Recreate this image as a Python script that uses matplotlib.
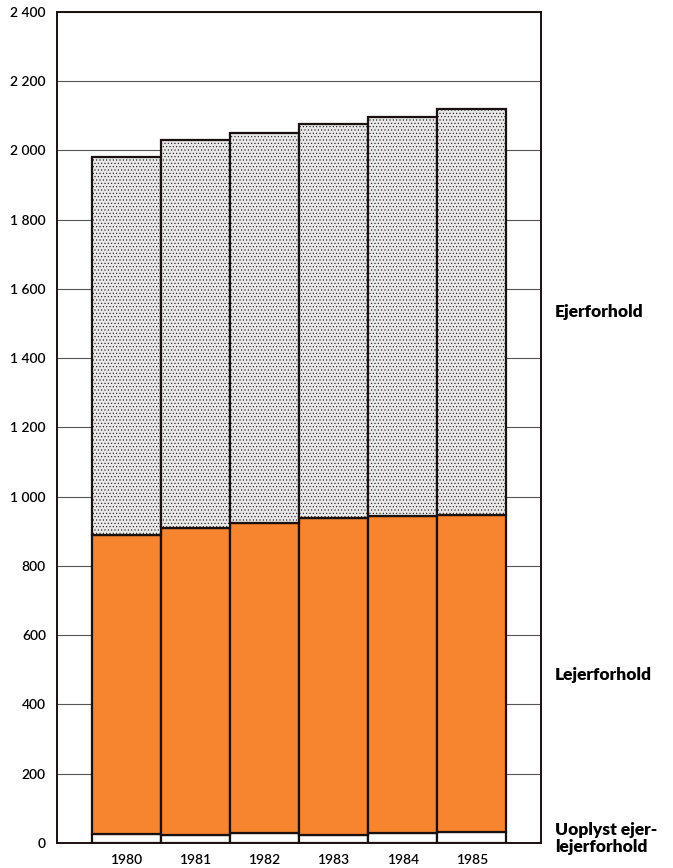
import matplotlib.pyplot as plt

years = ['1980', '1981', '1982', '1983', '1984', '1985']
uoplyst = [25, 24, 29, 24, 28, 32]
lejer_top = [890, 910, 924, 939, 944, 947]
total = [1981, 2030, 2051, 2077, 2097, 2120]

lejer = [l - u for l, u in zip(lejer_top, uoplyst)]
ejer = [t - l for t, l in zip(total, lejer_top)]

plt.rcParams['font.family'] = ['Lato', 'DejaVu Sans']
plt.rcParams['hatch.color'] = '#b5b5b5'
plt.rcParams['hatch.linewidth'] = 0.4

fig = plt.figure(figsize=(6.73, 8.68), dpi=100)
ax = fig.add_axes([0.0847, 0.0288, 0.7192, 0.9574])

x = range(len(years))
ax.bar(x, uoplyst, width=1.0, color='white', edgecolor='#1a1010', linewidth=1.6, zorder=3)
ax.bar(x, lejer, width=1.0, bottom=uoplyst, color='#f7842f', edgecolor='#1a1010', linewidth=1.6, zorder=3)
ax.bar(x, ejer, width=1.0, bottom=lejer_top, color='#e8e8e8', edgecolor='#1a1010',
       linewidth=1.6, hatch='.....', zorder=3)

ax.set_xlim(-1, 6)
ax.set_ylim(0, 2400)
yt = list(range(0, 2401, 200))
ax.set_yticks(yt)
ax.set_yticklabels(['{:,}'.format(v).replace(',', ' ') for v in yt], fontsize=10, fontweight='semibold')
ax.set_xticks(list(x))
ax.set_xticklabels(years, fontsize=10, fontweight='semibold')
ax.tick_params(length=0, pad=8)
ax.tick_params(axis='x', pad=8)
ax.grid(axis='y', color='#555555', linewidth=0.8, zorder=0)
for s in ax.spines.values():
    s.set_linewidth(1.4)
    s.set_color('#1a1010')

lab = dict(fontsize=12.5, fontweight='heavy')
fig.text(0.825, 0.641, 'Ejerforhold', va='center', **lab)
fig.text(0.825, 0.222, 'Lejerforhold', va='center', **lab)
fig.text(0.825, 0.034, 'Uoplyst ejer-\nlejerforhold', va='center', linespacing=1.05, **lab)

fig.savefig('out.png', dpi=100)
